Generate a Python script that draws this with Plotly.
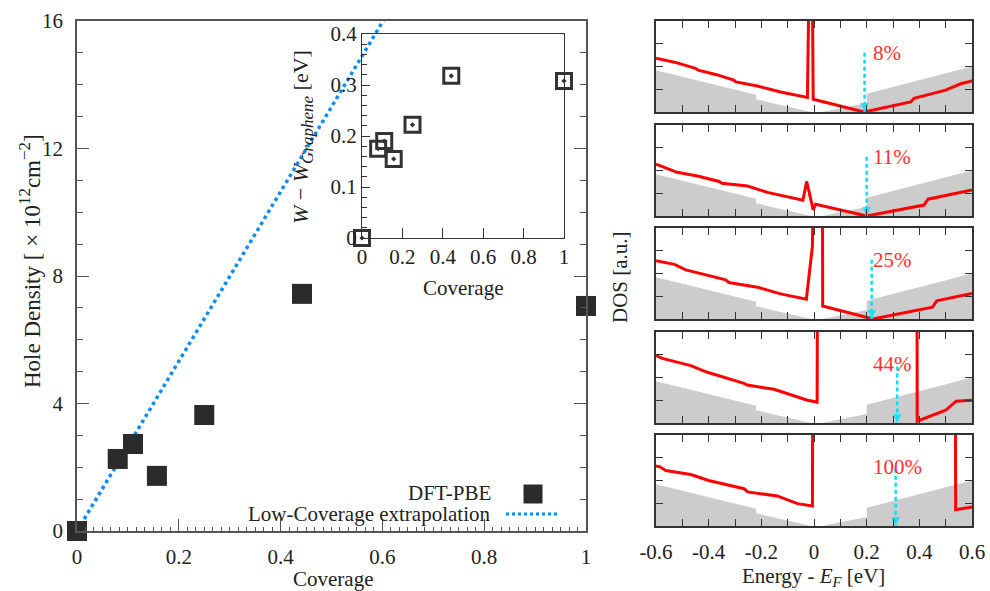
import plotly.graph_objects as go

W, H = 990, 591
def px_x(p):
    return p / W
def px_y(p):
    return 1 - p / H

# ---------------- data ----------------
coverage = [0.0, 0.08, 0.11, 0.157, 0.25, 0.442, 1.0]
hole_density = [0.0, 2.26, 2.73, 1.73, 3.64, 7.44, 7.06]
work_function_shift = [0.0, 0.175, 0.19, 0.155, 0.222, 0.318, 0.308]
extrap_coverage = [0.0, 0.62]
extrap_density = [0.0, 16.5]

graphene_E = [-0.6, -0.22, -0.22, -0.01, 0.03, 0.2, 0.2, 0.6]
graphene_dos = [0.46, 0.19, 0.14, 0.0, 0.0, 0.1, 0.2, 0.5]

p1_E = [-0.6, -0.52, -0.45, -0.44, -0.37, -0.305, -0.297, -0.215, -0.127, -0.025, -0.018, -0.007, -0.003, 0.19, 0.367, 0.38, 0.5, 0.557, 0.6]
p1_dos = [0.59, 0.54, 0.48, 0.46, 0.41, 0.35, 0.33, 0.285, 0.22, 0.16, 1.6, 1.6, 0.14, 0.0, 0.11, 0.15, 0.24, 0.31, 0.34]
p2_E = [-0.6, -0.52, -0.443, -0.36, -0.35, -0.253, -0.177, -0.042, -0.028, -0.003, 0.006, 0.2, 0.418, 0.433, 0.6]
p2_dos = [0.57, 0.48, 0.44, 0.38, 0.36, 0.33, 0.26, 0.174, 0.38, 0.067, 0.13, 0.0, 0.12, 0.185, 0.285]
p3_E = [-0.6, -0.53, -0.487, -0.405, -0.335, -0.323, -0.215, -0.127, -0.029, -0.006, -0.002, 0.032, 0.033, 0.224, 0.45, 0.466, 0.6]
p3_dos = [0.64, 0.60, 0.54, 0.485, 0.43, 0.40, 0.35, 0.276, 0.217, 0.8, 1.6, 1.6, 0.143, 0.0, 0.13, 0.2, 0.28]
p4_E = [-0.6, -0.576, -0.468, -0.405, -0.266, -0.254, -0.152, -0.025, 0.012, 0.013, 0.391, 0.392, 0.5, 0.53, 0.54, 0.6]
p4_dos = [0.74, 0.71, 0.63, 0.557, 0.435, 0.417, 0.37, 0.25, 0.23, 1.6, 1.6, 0.02, 0.14, 0.21, 0.24, 0.25]
p5_E = [-0.6, -0.585, -0.563, -0.468, -0.4, -0.266, -0.252, -0.14, -0.063, -0.006, -0.005, 0.537, 0.538, 0.6]
p5_dos = [0.66, 0.65, 0.61, 0.566, 0.5, 0.41, 0.375, 0.33, 0.246, 0.22, 1.6, 1.6, 0.18, 0.21]

panel_E = [p1_E, p2_E, p3_E, p4_E, p5_E]
panel_dos = [p1_dos, p2_dos, p3_dos, p4_dos, p5_dos]
panel_labels = ["8%", "11%", "25%", "44%", "100%"]
fermi_shift = [0.192, 0.2, 0.219, 0.316, 0.31]
arrow_top = [0.65, 0.65, 0.65, 0.62, 0.63]
label_E = 0.215
label_level = 0.65

energy_ticks = [-0.6, -0.4, -0.2, 0.0, 0.2, 0.4, 0.6]
energy_ticktext = ["-0.6", "-0.4", "-0.2", "0", "0.2", "0.4", "0.6"]
dos_ticks = [0.25, 0.5, 0.75]

# ---------------- style ----------------
FONT = "Liberation Serif, DejaVu Serif, serif"
FS = 21
TXT = "#222222"
AX = "#555555"
FR = "#333333"
RED = "#ff0000"
CYAN = "#00e1ff"
BLUE = "#0a8cff"
GRAY = "#cccccc"
SQ = "#2b2b2b"

fig = go.Figure()

# main plot
fig.add_trace(go.Scatter(x=extrap_coverage, y=extrap_density, mode="lines",
                         line=dict(color=BLUE, width=3.5, dash="dot"),
                         xaxis="x", yaxis="y"))
fig.add_trace(go.Scatter(x=coverage, y=hole_density, mode="markers",
                         marker=dict(symbol="square", size=20, color=SQ),
                         cliponaxis=False, xaxis="x", yaxis="y"))
# inset
fig.add_trace(go.Scatter(x=coverage, y=work_function_shift, mode="markers",
                         marker=dict(symbol="square-open-dot", size=15, color=FR,
                                     line=dict(width=3, color=FR)),
                         cliponaxis=False, xaxis="x2", yaxis="y2"))

annotations = []
panel_tops = [21, 125, 228, 332, 435]
panel_h = 91

for i in range(5):
    xa = "x%d" % (i + 3)
    ya = "y%d" % (i + 3)
    fig.add_trace(go.Scatter(x=graphene_E, y=graphene_dos, mode="lines", fill="tozeroy",
                             fillcolor=GRAY, line=dict(width=0, color=GRAY),
                             xaxis=xa, yaxis=ya))
    fig.add_trace(go.Scatter(x=panel_E[i], y=panel_dos[i], mode="lines",
                             line=dict(color=RED, width=3),
                             xaxis=xa, yaxis=ya))
    fig.add_trace(go.Scatter(x=[fermi_shift[i], fermi_shift[i]], y=[arrow_top[i], 0.0],
                             mode="lines+markers",
                             line=dict(color=CYAN, width=2.5, dash="4px,3px"),
                             marker=dict(symbol="arrow-down", size=[0, 9], color=CYAN,
                                         line=dict(width=0)),
                             cliponaxis=False, xaxis=xa, yaxis=ya))
    annotations.append(dict(x=label_E, y=label_level, xref=xa, yref=ya,
                            text=panel_labels[i], showarrow=False, xanchor="left",
                            yanchor="middle", font=dict(family=FONT, size=FS, color="#ff3030")))

tickfont = dict(family=FONT, size=FS, color=TXT)
layout = dict(
    width=W, height=H, margin=dict(l=0, r=0, t=0, b=0, autoexpand=False),
    paper_bgcolor="white", plot_bgcolor="rgba(0,0,0,0)", showlegend=False,
    xaxis=dict(domain=[px_x(77), px_x(586)], anchor="y", range=[0, 1], tick0=0, dtick=0.2,
               ticks="inside", ticklen=12, tickwidth=1.2, tickcolor=AX,
               minor=dict(dtick=0.2 / 12, tick0=0, ticks="inside", ticklen=4, tickcolor=AX, tickwidth=1),
               showline=True, linecolor=AX, linewidth=1.5, mirror=True, automargin=False,
               showgrid=False, zeroline=False, tickfont=tickfont, ticklabelstandoff=6),
    yaxis=dict(domain=[px_y(531), px_y(21)], anchor="x", range=[0, 16], tick0=0, dtick=4,
               ticks="inside", ticklen=12, tickwidth=1.2, tickcolor=AX,
               minor=dict(dtick=1, ticks="inside", ticklen=6, tickcolor=AX, tickwidth=1),
               showline=True, linecolor=AX, linewidth=1.5, mirror="ticks", automargin=False,
               showgrid=False, zeroline=False, tickfont=tickfont, ticklabelstandoff=8),
    xaxis2=dict(domain=[px_x(362), px_x(564)], anchor="y2", range=[0, 1], tick0=0, dtick=0.2,
                ticks="inside", ticklen=10, tickwidth=1.2, tickcolor=FR, automargin=False,
                showline=True, linecolor=FR, linewidth=1.3, mirror=True,
                showgrid=False, zeroline=False, tickfont=tickfont),
    yaxis2=dict(domain=[px_y(238), px_y(34)], anchor="x2", range=[0, 0.4], tick0=0, dtick=0.1,
                ticks="inside", ticklen=8, tickwidth=1.2, tickcolor=FR, automargin=False,
                minor=dict(dtick=0.02, ticks="inside", ticklen=5, tickcolor=FR, tickwidth=1),
                showline=True, linecolor=FR, linewidth=1.3, mirror=True,
                showgrid=False, zeroline=False, tickfont=tickfont),
)

for i in range(5):
    top = panel_tops[i]
    layout["xaxis%d" % (i + 3)] = dict(
        domain=[px_x(656), px_x(972)], anchor="y%d" % (i + 3), range=[-0.6, 0.6],
        tickmode="array", tickvals=energy_ticks, ticktext=energy_ticktext,
        minor=dict(tickmode="linear", tick0=0, dtick=0.1, ticks="inside", ticklen=7,
                   tickcolor=FR, tickwidth=1.2),
        showticklabels=(i == 4), ticks="inside", ticklen=7, tickwidth=1.2, tickcolor=FR,
        showline=True, linecolor=FR, linewidth=1.5, mirror="allticks", automargin=False,
        showgrid=False, zeroline=False, tickfont=tickfont, ticklabelstandoff=6)
    layout["yaxis%d" % (i + 3)] = dict(
        domain=[px_y(top + panel_h), px_y(top)], anchor="x%d" % (i + 3), range=[0, 1],
        tickmode="array", tickvals=dos_ticks, showticklabels=False, automargin=False,
        ticks="inside", ticklen=7, tickwidth=1.2, tickcolor=FR,
        showline=True, linecolor=FR, linewidth=1.5, mirror="allticks",
        showgrid=False, zeroline=False)

def title(text, x, y, angle=0, anchor="center", size=FS):
    return dict(text=text, x=px_x(x), y=px_y(y), xref="paper", yref="paper",
                showarrow=False, textangle=angle, xanchor=anchor, yanchor="middle",
                font=dict(family=FONT, size=size, color=TXT))

annotations += [
    title("Hole Density [ × 10<sup><span style='font-size:17px'>12</span></sup>"
          "cm<sup><span style='font-size:17px'>−2</span></sup>]", 30, 261, -90, size=23),
    title("Coverage", 333, 579),
    title("<i>W</i> − <i>W</i><sub><span style='font-size:17px'><i>Graphene</i></span></sub> [eV]",
          302, 137, -90, size=22),
    title("Coverage", 463, 288),
    title("Energy - <i>E</i><sub><i>F</i></sub> [eV]", 813, 577),
    title("DOS [a.u.]", 620, 277, -90),
    title("DFT-PBE", 493, 493, anchor="right"),
    title("Low-Coverage extrapolation", 492, 514, anchor="right"),
]
layout["annotations"] = annotations
layout["shapes"] = [
    dict(type="rect", xref="paper", yref="paper", x0=px_x(523.5), x1=px_x(542.5),
         y0=px_y(503.5), y1=px_y(484.5), fillcolor=SQ, line=dict(width=0)),
    dict(type="line", xref="paper", yref="paper", x0=px_x(506), x1=px_x(560),
         y0=px_y(514), y1=px_y(514), line=dict(color=BLUE, width=3, dash="dot")),
]

fig.update_layout(**layout)
fig.write_html("out.html", config={"displayModeBar": False},
               post_script="document.body.style.margin='0';document.body.style.overflow='hidden';")
